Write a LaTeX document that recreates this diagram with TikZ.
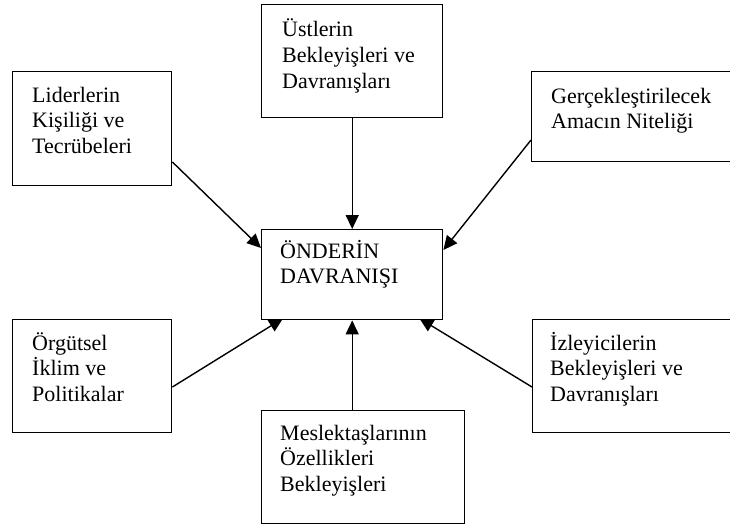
\documentclass[tikz,border=0pt]{standalone}
\usepackage{fontspec}
\setmainfont{Liberation Serif}
\usetikzlibrary{arrows.meta}
\pgfdeclarelayer{background}
\pgfsetlayers{background,main}
\tikzset{
  box/.style={draw=black, line width=1.4pt, fill=white, rectangle, inner sep=0pt, anchor=north west},
  % base west of a multi-line node sits on the last line's baseline
  boxtext/.style={anchor=base west, inner sep=0pt, align=left, font=\fontsize{22}{25.7}\selectfont},
  arr/.style={line width=1.4pt, -{Triangle[length=14pt,width=13pt]}}
}
\begin{document}
\begin{tikzpicture}[x=1pt,y=-1pt]
\useasboundingbox (0,0) rectangle (730,524);
\clip (0,0) rectangle (730,524);

% boxes
\node[box, minimum width=159pt, minimum height=114pt] (lid) at (12,71) {};
\node[box, minimum width=181pt, minimum height=113pt] (ust) at (261,4) {};
\node[box, minimum width=209pt, minimum height=90pt]  (amac) at (531,71) {};
\node[box, minimum width=181pt, minimum height=90pt]  (onder) at (261,229) {};
\node[box, minimum width=159pt, minimum height=113pt] (org) at (12,319) {};
\node[box, minimum width=208pt, minimum height=113pt] (izl) at (532,319) {};
\node[box, minimum width=203pt, minimum height=113pt] (mes) at (261,410) {};

% texts
\node[boxtext] (tlid) at ([xshift=20pt,yshift=-82.4pt]lid.north west) {Liderlerin\\Kişiliği ve\\Tecrübeleri};
\node[boxtext] (tust) at ([xshift=21pt,yshift=-84.4pt]ust.north west) {Üstlerin\\Bekleyişleri ve\\Davranışları};
\node[boxtext] (tamac) at ([xshift=20pt,yshift=-57.7pt]amac.north west) {Gerçekleştirilecek\\Amacın Niteliği};
\node[boxtext] (tonder) at ([xshift=19pt,yshift=-54.7pt]onder.north west) {ÖNDERİN\\DAVRANIŞI};
\node[boxtext] (torg) at ([xshift=20pt,yshift=-82.4pt]org.north west) {Örgütsel\\İklim ve\\Politikalar};
\node[boxtext] (tizl) at ([xshift=18pt,yshift=-82.4pt]izl.north west) {İzleyicilerin\\Bekleyişleri ve\\Davranışları};
\node[boxtext] (tmes) at ([xshift=19pt,yshift=-81.4pt]mes.north west) {Meslektaşlarının\\Özellikleri\\Bekleyişleri};

% connectors
\begin{pgfonlayer}{background}
\draw[arr] ([yshift=-91pt]lid.north east) -- ([yshift=-19pt]onder.north west);
\draw[arr] (ust.south) -- (onder.north);
\draw[arr] ([yshift=-69pt]amac.north west) -- ([yshift=-21pt]onder.north east);
\draw[arr] ([yshift=-68pt]org.north east) -- ([xshift=22pt,yshift=2pt]onder.south west);
\draw[arr] ([yshift=-68pt]izl.north west) -- ([xshift=-24pt,yshift=2pt]onder.south east);
\draw[arr] (mes.north -| onder.south) -- (onder.south);
\end{pgfonlayer}
\end{tikzpicture}
\end{document}
